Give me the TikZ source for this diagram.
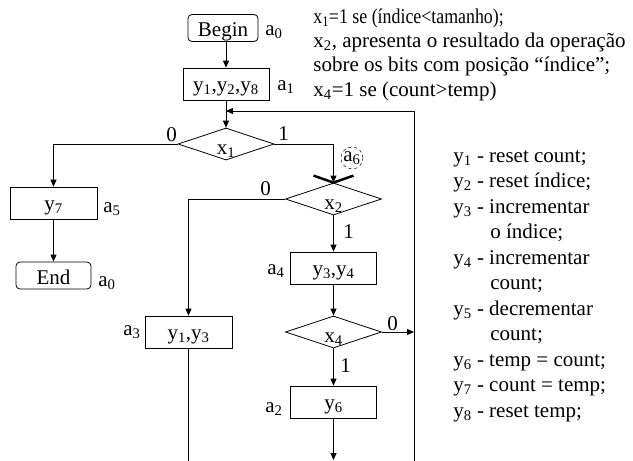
\documentclass[tikz,border=0pt]{standalone}
\usepackage{fontspec}
\usepackage{graphicx}
\setmainfont{Liberation Serif}
\usetikzlibrary{arrows.meta,shapes.geometric,calc}
\newcommand\sbs[1]{\textsubscript{#1}}
\begin{document}
\begin{tikzpicture}[x=1pt,y=-1pt,
  font=\fontsize{21}{24}\selectfont,
  line width=0.8pt,
  box/.style={draw, rectangle, minimum width=86pt, minimum height=32pt, inner sep=0pt, text height=14pt, text depth=0pt},
  term/.style={draw, rectangle, rounded corners=4pt, minimum height=27pt, inner sep=0pt, text height=17pt, text depth=0pt},
  cond/.style={draw, diamond, aspect=3, minimum width=96pt, minimum height=32pt, inner sep=0pt, text height=21pt, text depth=0pt},
  lbl/.style={anchor=base west, inner sep=0pt},
  arr/.style={-{Triangle[length=7pt,width=6pt]}},
  thickmark/.style={line width=2.5pt},
  dcirc/.style={draw, circle, dashed, line width=0.5pt, minimum size=22pt, inner sep=0pt}
]
\useasboundingbox (0,0) rectangle (633,461);

% nodes
\node[term, minimum width=70pt] (begin) at (223,28) {Begin};
\node[box] (a1) at (226,84) {y\sbs1,y\sbs2,y\sbs8};
\node[cond] (x1) at (226,144) {x\sbs1};
\node[box, minimum width=87pt] (y7) at (53.5,203) {y\sbs7};
\node[term, minimum width=75pt] (end) at (53.5,275.5) {End};
\node[cond] (x2) at (333.5,199) {x\sbs2};
\node[box, minimum width=87pt] (y13) at (188.5,332) {y\sbs1,y\sbs3};
\node[box] (y34) at (333.5,268) {y\sbs3,y\sbs4};
\node[cond] (x4) at (333.5,332) {x\sbs4};
\node[box] (y6) at (333.5,402) {y\sbs6};
\node[dcirc] (a6) at (352,158) {a\sbs6};

\coordinate (fbtop) at (414,111);
\coordinate (fbbot) at (414,461);
\coordinate (fbin) at (226,111);
\coordinate (y13end) at (188.5,461);
\coordinate (y6end) at (333.5,460);

% state labels
\node[lbl] (la0) at (265,35) {a\sbs0};
\node[lbl] (la1) at (277,90) {a\sbs1};
\node[lbl] (la5) at (103,212) {a\sbs5};
\node[lbl] (la0e) at (98,286) {a\sbs0};
\node[lbl] (la4) at (267,274) {a\sbs4};
\node[lbl] (la3) at (123,335) {a\sbs3};
\node[lbl] (la2) at (265,412) {a\sbs2};

% branch labels
\node[lbl] (b1) at (166,141) {0};
\node[lbl] (b2) at (278,140) {1};
\node[lbl] (b3) at (260,195) {0};
\node[lbl] (b4) at (343,238) {1};
\node[lbl] (b5) at (387,330) {0};
\node[lbl] (b6) at (340,372) {1};

% connectors
\draw[arr] (begin.south -| a1.north) -- (a1.north);
\draw[arr] (a1.south) -- (x1.north);
\draw[arr] (fbbot) -- (fbtop) -- (fbin);
\draw[arr] (x1.west) -| (y7.north);
\draw[arr] (y7.south) -- (end.north);
\draw[arr] (x1.east) -| (x2.north);
\draw[thickmark] ($(x2.north)+(-20,-7)$) -- (x2.north) -- ($(x2.north)+(20,-7)$);
\draw[arr] (x2.west) -| (y13.north);
\draw (y13.south) -- (y13end);
\draw[arr] (x2.south) -- (y34.north);
\draw[arr] (y34.south) -- (x4.north);
\draw[arr] (x4.east) -- (x4.east -| fbtop);
\draw[arr] (x4.south) -- (y6.north);
\draw[arr] (y6.south) -- (y6end);

% notes top right
\node[lbl] (t1) at (313,23) {\scalebox{0.85}[1]{x\sbs1=1 se (índice<tamanho);}};
\node[lbl] (t2) at (313,47) {x\sbs2, apresenta o resultado da operação};
\node[lbl] (t3) at (313,71.5) {sobre os bits com posição “índice”;};
\node[lbl] (t4) at (313,96) {x\sbs4=1 se (count>temp)};

% list right
\node[lbl] (l1) at (453,162) {y\sbs1 - reset count;};
\node[lbl] (l2) at (453,187.5) {y\sbs2 - reset índice;};
\node[lbl] (l3) at (453,213) {y\sbs3 - incrementar};
\node[lbl] (l4) at (490,238.5) {o índice;};
\node[lbl] (l5) at (453,264) {y\sbs4 - incrementar};
\node[lbl] (l6) at (490,289.5) {count;};
\node[lbl] (l7) at (453,315) {y\sbs5 - decrementar};
\node[lbl] (l8) at (490,340.5) {count;};
\node[lbl] (l9) at (453,366) {y\sbs6 - temp = count;};
\node[lbl] (l10) at (453,391.5) {y\sbs7 - count = temp;};
\node[lbl] (l11) at (453,417) {y\sbs8 - reset temp;};
\end{tikzpicture}
\end{document}
